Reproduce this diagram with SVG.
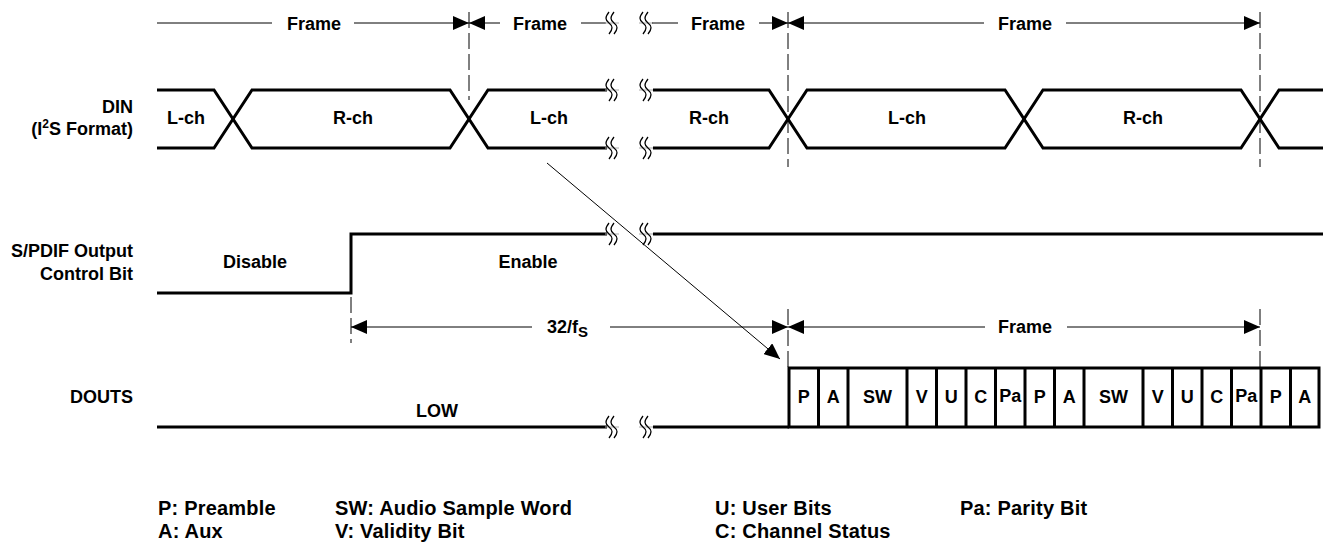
<svg xmlns="http://www.w3.org/2000/svg" xmlns:xlink="http://www.w3.org/1999/xlink" width="1323" height="545" viewBox="0 0 1323 545">
<style>
text{font-family:"Liberation Sans",Arial,Helvetica,sans-serif;font-weight:bold;font-size:18px;fill:#000}
.mid{text-anchor:middle}
.end{text-anchor:end}
.leg{font-size:20px;letter-spacing:0.2px}
.sig{fill:none;stroke:#000;stroke-width:3;stroke-linejoin:miter}
.thin{fill:none;stroke:#000;stroke-width:1}
.dash{fill:none;stroke:#000;stroke-width:1;stroke-dasharray:16 5}
.sq{fill:none;stroke:#000;stroke-width:1.3}
.gap{stroke:#aaa;stroke-width:1}
</style>
<defs>
<marker id="arr" markerUnits="userSpaceOnUse" markerWidth="16" markerHeight="14" refX="16" refY="7" orient="auto-start-reverse">
<path d="M0,0 L16,7 L0,14 z" fill="#000"/>
</marker>
<g id="brk">
<line class="gap" x1="-7" y1="0" x2="7" y2="0"/>
<path class="sq" d="M-3,-11 C-7,-6 -7,-3 -3,0 C1,3 1,6 -3,11 M2,-11 C-2,-6 -2,-3 2,0 C6,3 6,6 2,11"/>
</g>
</defs>

<g id="labels">
<text class="end" x="133" y="113">DIN</text>
<text class="end" x="133" y="135">(I<tspan font-size="12" dy="-7">2</tspan><tspan dy="7">S Format)</tspan></text>
<text class="end" x="133" y="257">S/PDIF Output</text>
<text class="end" x="133" y="280">Control Bit</text>
<text class="end" x="133" y="403">DOUTS</text>
</g>

<g id="frame-row-top">
<line class="thin" x1="157" y1="23" x2="272" y2="23"/>
<text class="mid" x="314" y="29.5">Frame</text>
<line class="thin" x1="354" y1="23" x2="469" y2="23" marker-end="url(#arr)"/>
<line class="thin" x1="469" y1="23" x2="500" y2="23" marker-start="url(#arr)"/>
<text class="mid" x="540" y="29.5">Frame</text>
<line class="thin" x1="581" y1="23" x2="606" y2="23"/>
<use xlink:href="#brk" x="612" y="23"/>
<use xlink:href="#brk" x="646" y="23"/>
<line class="thin" x1="652" y1="23" x2="678" y2="23"/>
<text class="mid" x="718" y="29.5">Frame</text>
<line class="thin" x1="759" y1="23" x2="788" y2="23" marker-end="url(#arr)"/>
<line class="thin" x1="788" y1="23" x2="984" y2="23" marker-start="url(#arr)"/>
<text class="mid" x="1025" y="29.5">Frame</text>
<line class="thin" x1="1066" y1="23" x2="1260" y2="23" marker-end="url(#arr)"/>
</g>

<g id="guides">
<line class="dash" x1="469" y1="12" x2="469" y2="100"/>
<line class="dash" x1="788" y1="12" x2="788" y2="167"/>
<line class="dash" x1="1260" y1="12" x2="1260" y2="167"/>
<line class="dash" x1="351" y1="297" x2="351" y2="343"/>
<line class="dash" x1="788" y1="309" x2="788" y2="368"/>
<line class="dash" x1="1260" y1="309" x2="1260" y2="368"/>
</g>

<g id="din">
<path class="sig" d="M157,90 H214 L252,148 H450 L488,90 H607"/>
<path class="sig" d="M157,148 H214 L252,90 H450 L488,148 H607"/>
<path class="sig" d="M653,90 H769 L807,148 H1005 L1043,90 H1241 L1279,148 H1323"/>
<path class="sig" d="M653,148 H769 L807,90 H1005 L1043,148 H1241 L1279,90 H1323"/>
<use xlink:href="#brk" x="612" y="90"/>
<use xlink:href="#brk" x="646" y="90"/>
<use xlink:href="#brk" x="612" y="148"/>
<use xlink:href="#brk" x="646" y="148"/>
<text class="mid" x="186" y="124">L-ch</text>
<text class="mid" x="353" y="124">R-ch</text>
<text class="mid" x="549" y="124">L-ch</text>
<text class="mid" x="709" y="124">R-ch</text>
<text class="mid" x="907" y="124">L-ch</text>
<text class="mid" x="1143" y="124">R-ch</text>
</g>

<g id="spdif">
<path class="sig" d="M157,293 H351 V234 H607"/>
<path class="sig" d="M653,234 H1323"/>
<use xlink:href="#brk" x="612" y="234"/>
<use xlink:href="#brk" x="646" y="234"/>
<text class="mid" x="255" y="268">Disable</text>
<text class="mid" x="528" y="268">Enable</text>
</g>

<g id="timing-row">
<line class="thin" x1="351" y1="327" x2="532" y2="327" marker-start="url(#arr)"/>
<text x="547" y="333">32/f<tspan font-size="15" dy="4">S</tspan></text>
<line class="thin" x1="610" y1="327" x2="788" y2="327" marker-end="url(#arr)"/>
<line class="thin" x1="788" y1="327" x2="985" y2="327" marker-start="url(#arr)"/>
<text class="mid" x="1025" y="333">Frame</text>
<line class="thin" x1="1067" y1="327" x2="1260" y2="327" marker-end="url(#arr)"/>
</g>

<g id="douts">
<path class="sig" d="M157,427 H607"/>
<path class="sig" d="M653,427 H789"/>
<use xlink:href="#brk" x="612" y="427"/>
<use xlink:href="#brk" x="646" y="427"/>
<text class="mid" x="437" y="417">LOW</text>
<rect class="sig" x="789" y="368" width="530" height="59"/>
<path class="sig" d="M818.5,368V427 M848,368V427 M907,368V427 M936.5,368V427 M966,368V427 M995.5,368V427 M1025,368V427 M1054.5,368V427 M1084,368V427 M1143,368V427 M1172.5,368V427 M1202,368V427 M1231.5,368V427 M1261,368V427 M1290.5,368V427"/>
<text class="mid" x="803.7" y="403">P</text>
<text class="mid" x="833.2" y="403">A</text>
<text class="mid" x="877.5" y="403">SW</text>
<text class="mid" x="921.7" y="403">V</text>
<text class="mid" x="951.2" y="403">U</text>
<text class="mid" x="980.7" y="403">C</text>
<text class="mid" x="1010.2" y="402" font-size="15">Pa</text>
<text class="mid" x="1039.7" y="403">P</text>
<text class="mid" x="1069.2" y="403">A</text>
<text class="mid" x="1113.5" y="403">SW</text>
<text class="mid" x="1157.7" y="403">V</text>
<text class="mid" x="1187.2" y="403">U</text>
<text class="mid" x="1216.7" y="403">C</text>
<text class="mid" x="1246.2" y="402" font-size="15">Pa</text>
<text class="mid" x="1275.7" y="403">P</text>
<text class="mid" x="1304.7" y="403">A</text>
</g>

<g id="connectors">
<line class="thin" x1="547" y1="163" x2="780" y2="359" marker-end="url(#arr)"/>
</g>

<g id="legend">
<text class="leg" x="158" y="515">P: Preamble</text>
<text class="leg" x="158" y="538">A: Aux</text>
<text class="leg" x="335" y="515">SW: Audio Sample Word</text>
<text class="leg" x="335" y="538">V: Validity Bit</text>
<text class="leg" x="715" y="515">U: User Bits</text>
<text class="leg" x="715" y="538">C: Channel Status</text>
<text class="leg" x="960" y="515">Pa: Parity Bit</text>
</g>
</svg>
